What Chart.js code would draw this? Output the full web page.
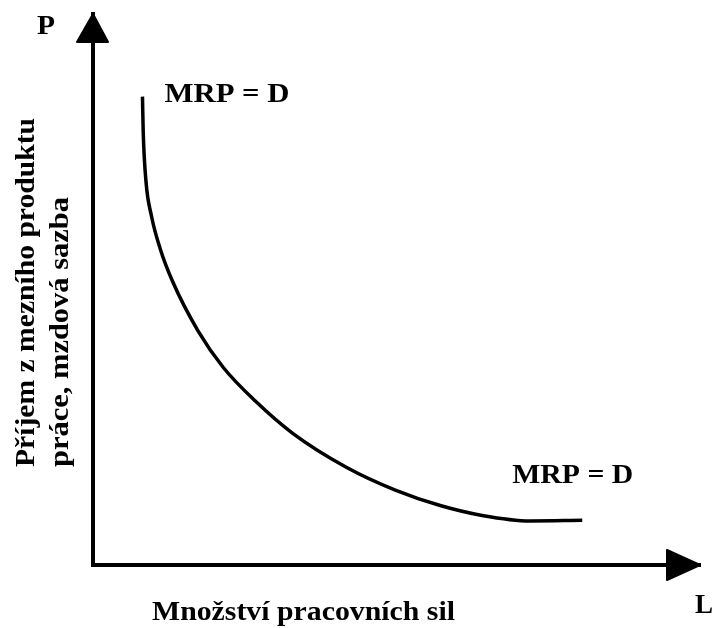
<!DOCTYPE html>
<html>
<head>
<meta charset="utf-8">
<script src="https://cdn.jsdelivr.net/npm/chart.js@4"></script>
<style>
  body { margin: 0; background: #ffffff; }
  #wrap { width: 716px; height: 628px; }
</style>
</head>
<body>
<div id="wrap"><canvas id="mrpChart" width="716" height="628"></canvas></div>
<script>
// curve (L = labour, P = wage / MRP), arbitrary units 0..10
const laborL = [0.815, 0.827, 0.873, 0.964, 1.104, 1.31, 1.73, 2.15, 2.67, 3.29, 4.18, 4.98, 5.72, 6.41, 7.20, 8.06];
const wageP = [8.50, 7.87, 6.96, 6.33, 5.75, 5.15, 4.25, 3.58, 2.98, 2.39, 1.77, 1.36, 1.08, 0.90, 0.80, 0.81];

const curveLabel = "MRP = D";
const xTitle = "Množství pracovních sil";
const yTitleLines = ["Příjem z mezního produktu", "práce, mzdová sazba"];
const xName = "L";
const yName = "P";

const points = laborL.map((l, i) => ({ x: l, y: wageP[i] }));
const FONT = "bold 27px 'Liberation Serif', 'Times New Roman', serif";

// draws text squeezed/stretched to a given width
function fitText(ctx, text, x, y, w) {
  ctx.save();
  ctx.font = FONT;
  const m = ctx.measureText(text).width;
  ctx.translate(x, y);
  ctx.scale(w / m, 1);
  ctx.textAlign = "left";
  ctx.textBaseline = "alphabetic";
  ctx.fillStyle = "#000";
  ctx.fillText(text, 0, 0);
  ctx.restore();
}

// arrow heads + all the labels
const decorPlugin = {
  id: "decor",
  afterDraw(chart) {
    const ctx = chart.ctx;
    const area = chart.chartArea;
    const xs = chart.scales.x;
    const ys = chart.scales.y;

    ctx.save();
    ctx.fillStyle = "#000";
    ctx.strokeStyle = "#000";
    ctx.lineJoin = "round";
    ctx.lineWidth = 2;
    // y arrow
    ctx.beginPath();
    ctx.moveTo(area.left, area.top);
    ctx.lineTo(area.left - 16, area.top + 28);
    ctx.lineTo(area.left + 15, area.top + 28);
    ctx.closePath();
    ctx.fill();
    ctx.stroke();
    // x arrow
    ctx.beginPath();
    ctx.moveTo(area.right, area.bottom);
    ctx.lineTo(area.right - 33, area.bottom - 15);
    ctx.lineTo(area.right - 33, area.bottom + 15);
    ctx.closePath();
    ctx.fill();
    ctx.stroke();
    ctx.restore();

    // axis names
    fitText(ctx, yName, 37, 34, 18);
    fitText(ctx, xName, 695, 613, 18);
    fitText(ctx, xTitle, 152, 620, 303);

    // rotated y title, two lines
    ctx.save();
    ctx.translate(0, 467);
    ctx.rotate(-Math.PI / 2);
    fitText(ctx, yTitleLines[0], 0, 34, 349);
    fitText(ctx, yTitleLines[1], 0, 68, 270);
    ctx.restore();

    // curve end labels
    const first = points[0];
    const last = points[points.length - 1];
    fitText(ctx, curveLabel, xs.getPixelForValue(first.x) + 22, ys.getPixelForValue(first.y) + 5, 125);
    fitText(ctx, curveLabel, xs.getPixelForValue(last.x) - 70, ys.getPixelForValue(last.y) - 37, 121);
  }
};

new Chart("mrpChart", {
  type: "scatter",
  data: {
    datasets: [{
      data: points,
      showLine: true,
      borderColor: "#000",
      borderWidth: 3.5,
      pointRadius: 0,
      cubicInterpolationMode: "monotone",
      fill: false
    }]
  },
  options: {
    responsive: false,
    animation: false,
    events: [],
    layout: { padding: { left: 85, top: 14, right: 16, bottom: 55 } },
    plugins: {
      legend: { display: false },
      tooltip: { enabled: false }
    },
    scales: {
      x: {
        type: "linear",
        min: 0,
        max: 10,
        ticks: { display: false },
        grid: { display: false },
        border: { display: true, color: "#000", width: 4 }
      },
      y: {
        type: "linear",
        min: 0,
        max: 10,
        ticks: { display: false },
        grid: { display: false },
        border: { display: true, color: "#000", width: 4 }
      }
    }
  },
  plugins: [decorPlugin]
});
</script>
</body>
</html>
